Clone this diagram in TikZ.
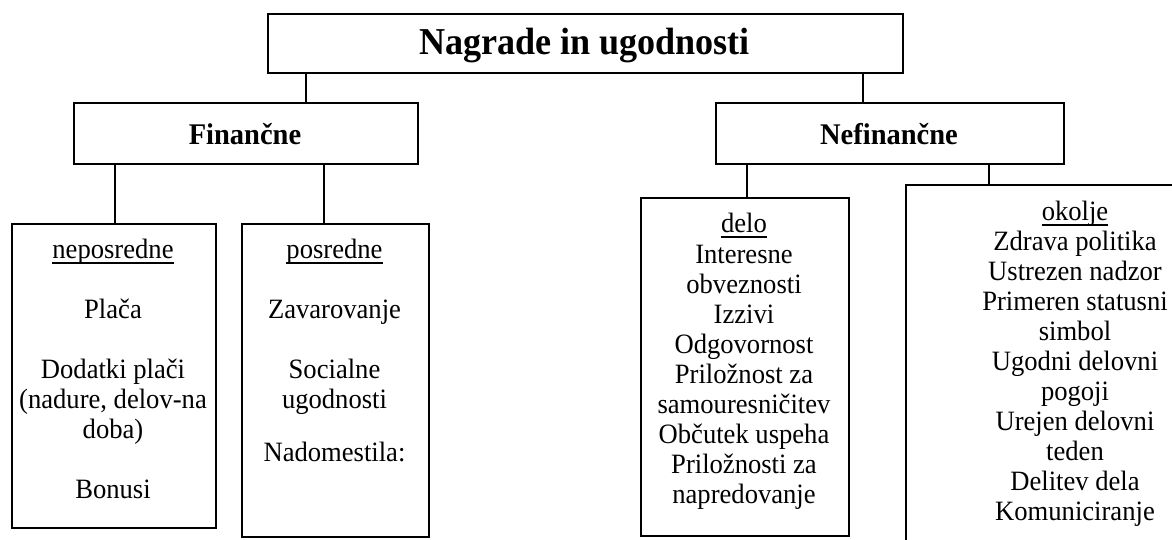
\documentclass[tikz,border=0pt]{standalone}
\usepackage{fontspec}
\setmainfont{Liberation Serif}[FakeStretch=0.95]
% underline drawn a fixed distance below the baseline
\newcommand{\uln}[1]{\setbox0=\hbox{#1}\rlap{\vrule width \wd0 height -4pt depth 5.6pt}\box0}
\newcommand{\fs}{\rule{0pt}{20pt}}
\begin{document}
\begin{tikzpicture}[x=1pt,y=-1pt,
  box/.style={draw, line width=1.7pt, inner sep=0pt, anchor=north west},
  link/.style={line width=1.3pt},
  head/.style={font=\fontsize{38}{42}\selectfont\bfseries, anchor=base, inner sep=0pt},
  sub/.style={font=\fontsize{30}{34}\selectfont\bfseries, anchor=base, inner sep=0pt},
  body/.style={font=\fontsize{28}{30}\selectfont, align=center, anchor=north, inner sep=0pt},
]
\useasboundingbox (0,0) rectangle (1172,539);
\clip (0,0) rectangle (1172,539);

% boxes
\node[box, minimum width=635pt, minimum height=59pt] (top) at (267,13) {};
\node[box, minimum width=344pt, minimum height=61pt] (fin) at (73,102) {};
\node[box, minimum width=348pt, minimum height=61pt] (nef) at (715,102) {};
\node[box, minimum width=204pt, minimum height=304pt] (nep) at (11,223) {};
\node[box, minimum width=187pt, minimum height=313pt] (pos) at (241,223) {};
\node[box, minimum width=208pt, minimum height=338pt] (delo) at (640,197) {};
\node[box, minimum width=360pt, minimum height=420pt] (oko) at (905,184) {};

% connector columns
\coordinate (c1) at (306,0);
\coordinate (c2) at (863,0);
\coordinate (c3) at (115,0);
\coordinate (c4) at (324,0);
\coordinate (c5) at (747,0);
\coordinate (c6) at (989,0);

\draw[link] (top.south -| c1) -- (fin.north -| c1);
\draw[link] (top.south -| c2) -- (nef.north -| c2);
\draw[link] (fin.south -| c3) -- (nep.north -| c3);
\draw[link] (fin.south -| c4) -- (pos.north -| c4);
\draw[link] (nef.south -| c5) -- (delo.north -| c5);
\draw[link] (nef.south -| c6) -- (oko.north -| c6);

% headings
\node[head] (ttl) at (584.5,54) {Nagrade in ugodnosti};
\node[sub] (tfin) at (245,144) {Finančne};
\node[sub] (tnef) at (889,144) {Nefinančne};

% contents
\node[body] (tnep) at (113,238) {\fs\uln{neposredne}\\[30pt]
  Plača\\[30pt]
  Dodatki plači\\
  (nadure, delov-na\\
  doba)\\[30pt]
  Bonusi};
\node[body] (tpos) at (334.5,238) {\fs\uln{posredne}\\[30pt]
  Zavarovanje\\[30pt]
  Socialne\\
  ugodnosti\\[23pt]
  Nadomestila:};
\node[body] (tdelo) at (744,212) {\fs\uln{delo}\\[1pt]
  Interesne\\
  obveznosti\\
  Izzivi\\
  Odgovornost\\
  Priložnost za\\
  samouresničitev\\
  Občutek uspeha\\
  Priložnosti za\\
  napredovanje};
\node[body] (toko) at (1075,200) {\fs\uln{okolje}\\
  Zdrava politika\\
  Ustrezen nadzor\\
  Primeren statusni\\
  simbol\\
  Ugodni delovni\\
  pogoji\\
  Urejen delovni\\
  teden\\
  Delitev dela\\
  Komuniciranje};
\end{tikzpicture}
\end{document}
